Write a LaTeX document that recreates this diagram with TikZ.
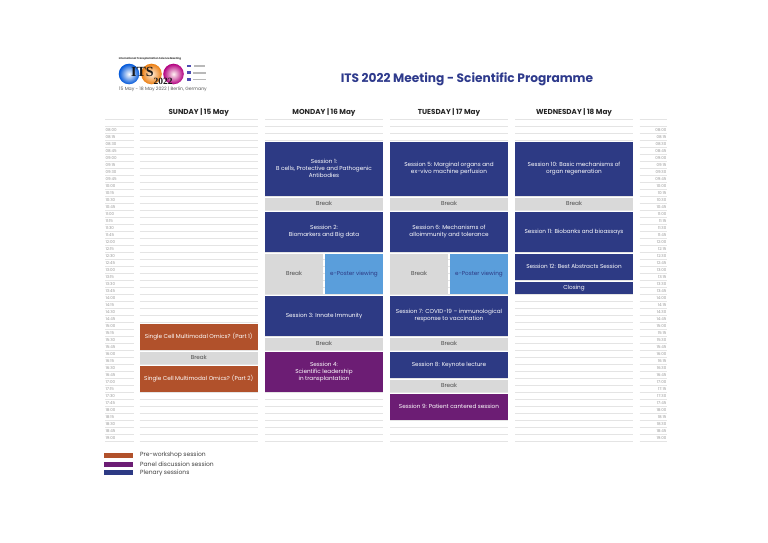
\documentclass[tikz,border=0pt]{standalone}
\usepackage{fontspec}
\setmainfont{Poppins}
\newfontfamily\logoserif{Liberation Serif}
\definecolor{navy}{HTML}{2D3A84}
\definecolor{plum}{HTML}{6C1D74}
\definecolor{rust}{HTML}{B1512B}
\definecolor{sky}{HTML}{5A9EDB}
\definecolor{brk}{HTML}{D9D9D9}
\definecolor{gridc}{HTML}{E4E4E4}
\definecolor{tgray}{HTML}{9A9A9A}
\definecolor{titleblue}{HTML}{2E3A8C}
\newcommand\slotbox[7]{\node[#1, anchor=north west, minimum width=#4pt, minimum height={(7*#6-2)*1pt}] (#2) at (#3, {126.7+7*#5+1}) {#7};}
\tikzset{
  blk/.style={inner sep=0pt, outer sep=0pt, align=center, font=\fontsize{5.7}{7.1}\selectfont},
  plen/.style={blk, fill=navy, text=white},
  panel/.style={blk, fill=plum, text=white},
  prew/.style={blk, fill=rust, text=white},
  brkbox/.style={blk, fill=brk, text=black!70},
  poster/.style={blk, fill=sky, text=navy},
  gridl/.style={draw=gridc, line width=0.7pt},
  tlab/.style={inner sep=0pt, text=tgray, font=\fontsize{4}{4}\selectfont},
  dayhead/.style={inner sep=0pt, text=black!85, font=\bfseries\fontsize{7.2}{8}\selectfont},
  legtxt/.style={inner sep=0pt, anchor=west, text=black!75, font=\fontsize{6}{7}\selectfont},
  swatch/.style={inner sep=0pt, minimum width=29pt, minimum height=5pt, anchor=north west}
}
\begin{document}
\begin{tikzpicture}[x=1pt,y=-1pt]
\useasboundingbox (0,0) rectangle (768,543);
\fill[white] (0,0) rectangle (768,543);
% grid lines
\foreach \xa/\xb in {105/133.5,139.5/258,265/383,390/508,515/633,639.5/667}{
  \foreach \j in {0,...,46}{
    \draw[gridl] (\xa,{119.7+7*\j}) -- (\xb,{119.7+7*\j});
  }
}
% time labels
\foreach \h [count=\hi from 0] in {08,09,10,11,12,13,14,15,16,17,18}{
  \foreach \m [count=\mi from 0] in {00,15,30,45}{
    \node[tlab, anchor=west] (tl\h\m) at (105.5,{130.2+7*(4*\hi+\mi)}) {\h:\m};
    \node[tlab, anchor=east] (tr\h\m) at (666.5,{130.2+7*(4*\hi+\mi)}) {\h:\m};
  }
}
\node[tlab, anchor=west] (tl1900) at (105.5,{130.2+7*44}) {19:00};
\node[tlab, anchor=east] (tr1900) at (666.5,{130.2+7*44}) {19:00};
% title and headers
\node[inner sep=0pt, text=titleblue, font=\bfseries\fontsize{12.2}{13}\selectfont] (title) at (467,79) {ITS 2022 Meeting - Scientific Programme};
\node[dayhead] (sun) at (198.7,112.5) {SUNDAY | 15 May};
\node[dayhead] (mon) at (324,112.5) {MONDAY | 16 May};
\node[dayhead] (tue) at (449,112.5) {TUESDAY | 17 May};
\node[dayhead] (wed) at (574,112.5) {WEDNESDAY | 18 May};
% logo
\shade[inner color=white, outer color=blue!60!cyan!85!black] (129,74) circle (10.3);
\shade[inner color=orange!15!white, outer color=orange!70!brown] (151.5,74) circle (10.3);
\shade[inner color=pink!20!white, outer color=purple!50!magenta!80!black] (173.5,74) circle (10.3);
\node[inner sep=0pt, text=black!80, font=\bfseries\fontsize{2.6}{3}\selectfont] (logotop) at (150,59.3) {International Transplantation Science Meeting};
\node[inner sep=0pt, text=black!90, font=\logoserif\bfseries\fontsize{14}{14}\selectfont] (its) at (142.5,72) {ITS};
\node[inner sep=0pt, text=black!90, font=\logoserif\bfseries\fontsize{9.5}{10}\selectfont] (yr) at (163,81.5) {2022};
\fill[blue!40!gray] (187,64.8) rectangle (191,67.5);
\fill[gray!55] (194,65.5) rectangle (205,66.8);
\fill[blue!40!gray] (187,71.5) rectangle (191,74);
\fill[gray!55] (193,72) rectangle (206,73.5);
\fill[blue!40!gray] (187,78) rectangle (191,80.6);
\fill[gray!55] (193,78.6) rectangle (206,80);
\node[inner sep=0pt, text=black!65, font=\fontsize{4.6}{5}\selectfont] (date) at (163,88.8) {15 May - 18 May 2022 | Berlin, Germany};
% Sunday
\slotbox{prew}{sun1}{139.5}{118.5}{28}{4}{Single Cell Multimodal Omics? (Part 1)}
\slotbox{brkbox}{sunb}{139.5}{118.5}{32}{2}{Break}
\slotbox{prew}{sun2}{139.5}{118.5}{34}{4}{Single Cell Multimodal Omics? (Part 2)}
% Monday
\slotbox{plen}{s1}{265}{118}{2}{8}{Session 1:\\B cells, Protective and Pathogenic\\Antibodies}
\slotbox{brkbox}{mb1}{265}{118}{10}{2}{Break}
\slotbox{plen}{s2}{265}{118}{12}{6}{Session 2:\\Biomarkers and Big data}
\slotbox{brkbox}{mb2}{265}{58}{18}{6}{Break}
\slotbox{poster}{mp}{325}{58}{18}{6}{e-Poster viewing}
\slotbox{plen}{s3}{265}{118}{24}{6}{Session 3: Innate Immunity}
\slotbox{brkbox}{mb3}{265}{118}{30}{2}{Break}
\slotbox{panel}{s4}{265}{118}{32}{6}{Session 4:\\Scientific leadership\\in transplantation}
% Tuesday
\slotbox{plen}{s5}{390}{118}{2}{8}{Session 5: Marginal organs and\\ex-vivo machine perfusion}
\slotbox{brkbox}{tb1}{390}{118}{10}{2}{Break}
\slotbox{plen}{s6}{390}{118}{12}{6}{Session 6: Mechanisms of\\alloimmunity and tolerance}
\slotbox{brkbox}{tb2}{390}{58}{18}{6}{Break}
\slotbox{poster}{tp}{450}{58}{18}{6}{e-Poster viewing}
\slotbox{plen}{s7}{390}{118}{24}{6}{Session 7: COVID-19 – immunological\\response to vaccination}
\slotbox{brkbox}{tb3}{390}{118}{30}{2}{Break}
\slotbox{plen}{s8}{390}{118}{32}{4}{Session 8: Keynote lecture}
\slotbox{brkbox}{tb4}{390}{118}{36}{2}{Break}
\slotbox{panel}{s9}{390}{118}{38}{4}{Session 9: Patient cantered session}
% Wednesday
\slotbox{plen}{s10}{515}{118}{2}{8}{Session 10: Basic mechanisms of\\organ regeneration}
\slotbox{brkbox}{wb1}{515}{118}{10}{2}{Break}
\slotbox{plen}{s11}{515}{118}{12}{6}{Session 11: Biobanks and bioassays}
\slotbox{plen}{s12}{515}{118}{18}{4}{Session 12: Best Abstracts Session}
\slotbox{plen}{cl}{515}{118}{22}{2}{Closing}
% legend
\node[swatch, fill=rust] (lg1) at (103.5,452.5) {};
\node[swatch, fill=plum] (lg2) at (103.5,461.5) {};
\node[swatch, fill=navy] (lg3) at (103.5,470) {};
\node[legtxt] (lt1) at (140,455) {Pre-workshop session};
\node[legtxt] (lt2) at (140,464) {Panel discussion session};
\node[legtxt] (lt3) at (140,472.7) {Plenary sessions};
\end{tikzpicture}
\end{document}
